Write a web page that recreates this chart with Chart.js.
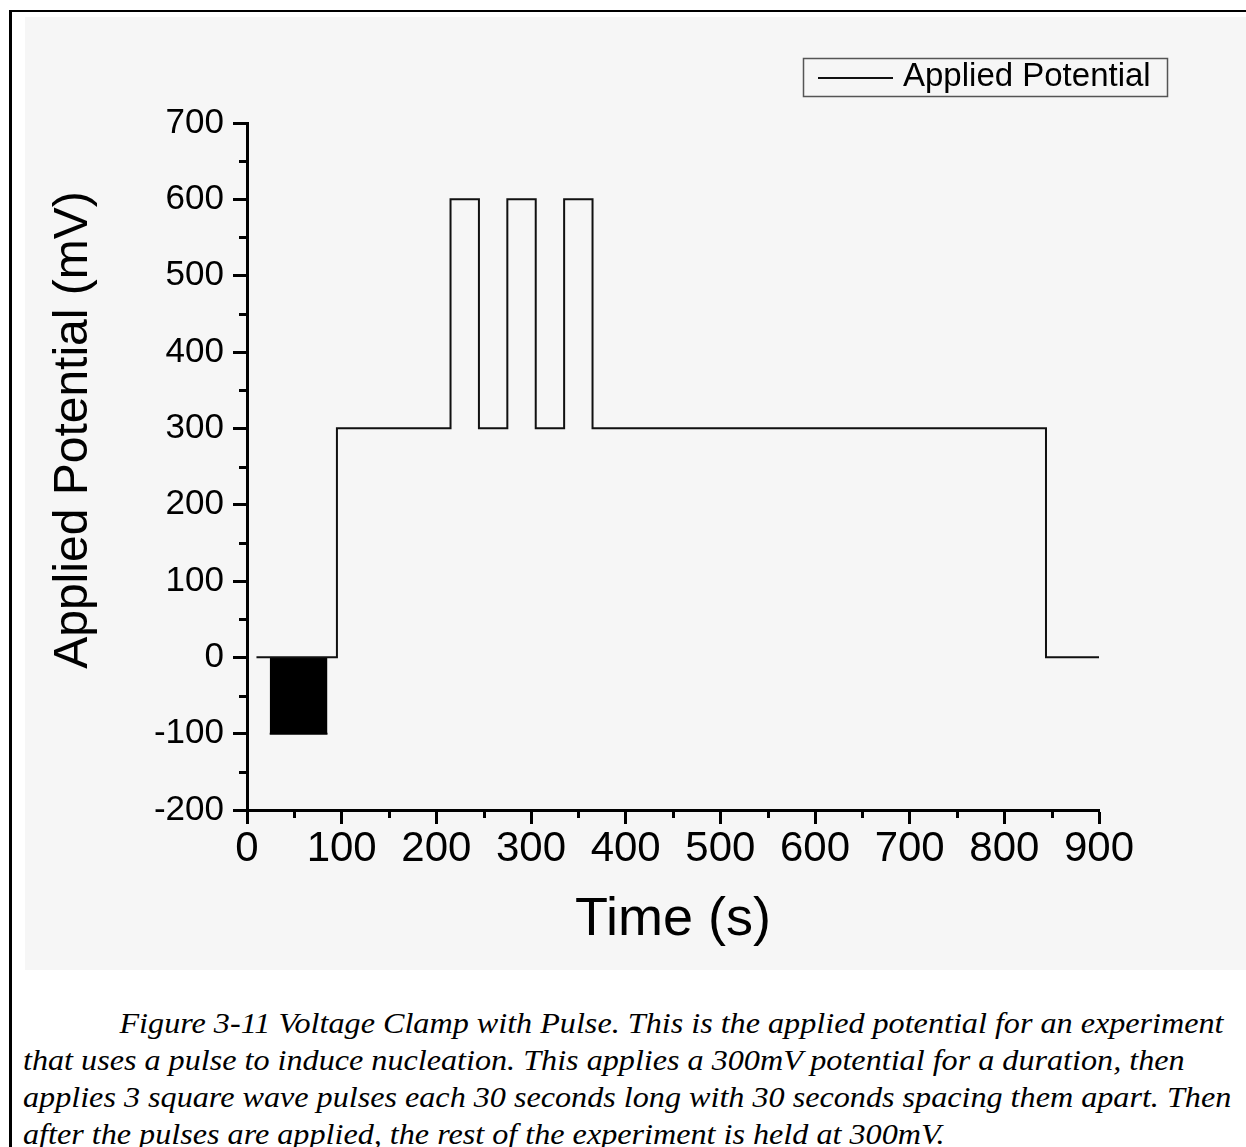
<!DOCTYPE html>
<html>
<head>
<meta charset="utf-8">
<title>Voltage Clamp with Pulse</title>
<script src="https://cdn.jsdelivr.net/npm/chart.js@4.4.1/dist/chart.umd.min.js"></script>
<style>
  body { margin: 0; background: #fff; width: 1246px; height: 1147px; overflow: hidden; position: relative; }
  .frame { position: absolute; left: 9px; top: 10px; right: 0; bottom: 0; border-top: 2px solid #000; border-left: 3px solid #000; }
  .panel { position: absolute; left: 25px; top: 17px; width: 1221px; height: 953px; background: #f6f6f6; }
  .caption { position: absolute; left: 23px; top: 1004px; font: italic 30px "Liberation Serif", "Times New Roman", serif; line-height: 37px; color: #000; white-space: nowrap; transform: scaleX(1.072); transform-origin: 0 0; }
  .caption .first { padding-left: 90px; }
</style>
</head>
<body>
<div class="frame"></div>
<div class="panel">
  <canvas id="chart" width="1221" height="953"></canvas>
</div>
<div class="caption">
  <div class="first">Figure 3-11 Voltage Clamp with Pulse. This is the applied potential for an experiment</div>
  <div>that uses a pulse to induce nucleation. This applies a 300mV potential for a duration, then</div>
  <div>applies 3 square wave pulses each 30 seconds long with 30 seconds spacing them apart. Then</div>
  <div>after the pulses are applied, the rest of the experiment is held at 300mV.</div>
</div>
<script>
// step breakpoints of the applied potential (value reached at each time)
const timeSec = [10, 95, 95, 215, 215, 245, 245, 275, 275, 305, 305, 335, 335, 365, 365, 844, 844, 900];
const potentialMv = [0, 0, 300, 300, 600, 600, 300, 300, 600, 600, 300, 300, 600, 600, 300, 300, 0, 0];

// fast -100/0 mV pulse train near the start, drawn as a solid block
const trainTimeSec = [24, 85];
const trainLowMv = [-100, -100];

const xTickValues = [0, 100, 200, 300, 400, 500, 600, 700, 800, 900];
const yTickValues = [-200, -100, 0, 100, 200, 300, 400, 500, 600, 700];
const xMinorTicks = [50, 150, 250, 350, 450, 550, 650, 750, 850];
const yMinorTicks = [-150, -50, 50, 150, 250, 350, 450, 550, 650];

const seriesLabel = 'Applied Potential';
const xTitle = 'Time (s)';
const yTitle = 'Applied Potential (mV)';

const FONT = 'Arial, "Liberation Sans", sans-serif';
Chart.defaults.font.family = FONT;
Chart.defaults.color = '#000';

const extras = {
    id: 'extras',
    afterDraw(chart) {
        const { ctx, chartArea, scales } = chart;
        ctx.save();
        ctx.strokeStyle = '#000';
        ctx.lineWidth = 3;
        ctx.beginPath();
        xMinorTicks.forEach(v => {
            const px = Math.round(scales.x.getPixelForValue(v)) + 0.5;
            ctx.moveTo(px, chartArea.bottom);
            ctx.lineTo(px, chartArea.bottom + 8);
        });
        yMinorTicks.forEach(v => {
            const py = Math.round(scales.y.getPixelForValue(v)) + 0.5;
            ctx.moveTo(chartArea.left, py);
            ctx.lineTo(chartArea.left - 8, py);
        });
        ctx.stroke();

        // y axis title
        ctx.save();
        ctx.translate(49, 413);
        ctx.rotate(-Math.PI / 2);
        ctx.font = '48px ' + FONT;
        ctx.fillStyle = '#000';
        ctx.textAlign = 'center';
        ctx.textBaseline = 'middle';
        ctx.fillText(yTitle, 0, 0);
        ctx.restore();

        // legend
        ctx.lineWidth = 1.5;
        ctx.strokeStyle = '#555';
        ctx.strokeRect(778.5, 41.5, 364, 38);
        ctx.lineWidth = 2;
        ctx.strokeStyle = '#111';
        ctx.beginPath();
        ctx.moveTo(793, 61);
        ctx.lineTo(868, 61);
        ctx.stroke();
        ctx.font = '33px ' + FONT;
        ctx.fillStyle = '#000';
        ctx.textAlign = 'left';
        ctx.textBaseline = 'middle';
        ctx.fillText(chart.data.datasets[0].label, 878, 60);
        ctx.restore();
    }
};

const ctx = document.getElementById('chart').getContext('2d');
new Chart(ctx, {
    type: 'line',
    data: {
        datasets: [
            {
                label: seriesLabel,
                data: timeSec.map((t, i) => ({ x: t, y: potentialMv[i] })),
                borderColor: '#111',
                borderWidth: 2,
                pointRadius: 0,
                fill: false
            },
            {
                label: 'pulse train',
                data: trainTimeSec.map((t, i) => ({ x: t, y: trainLowMv[i] })),
                borderColor: '#000',
                borderWidth: 2,
                backgroundColor: '#000',
                pointRadius: 0,
                fill: { value: 0 }
            }
        ]
    },
    options: {
        responsive: false,
        animation: false,
        layout: { padding: { top: 106, right: 147, left: 0, bottom: 0 } },
        plugins: {
            legend: { display: false },
            tooltip: { enabled: false }
        },
        scales: {
            x: {
                type: 'linear',
                min: 0,
                max: 900,
                afterBuildTicks: scale => { scale.ticks = xTickValues.map(v => ({ value: v })); },
                afterFit: scale => { scale.height = 160; },
                grid: { drawOnChartArea: false, drawTicks: true, tickLength: 14, tickWidth: 3, tickColor: '#000' },
                border: { display: true, color: '#000', width: 3 },
                ticks: { font: { size: 42 }, padding: 0, maxRotation: 0 },
                title: { display: true, text: xTitle, font: { size: 54 }, padding: { top: 0, bottom: 17 } }
            },
            y: {
                type: 'linear',
                min: -200,
                max: 700,
                afterBuildTicks: scale => { scale.ticks = yTickValues.map(v => ({ value: v })); },
                afterFit: scale => { scale.width = 222; },
                grid: { drawOnChartArea: false, drawTicks: true, tickLength: 14, tickWidth: 3, tickColor: '#000' },
                border: { display: true, color: '#000', width: 3 },
                ticks: { font: { size: 35 }, padding: 9 }
            }
        }
    },
    plugins: [extras]
});
</script>
</body>
</html>
